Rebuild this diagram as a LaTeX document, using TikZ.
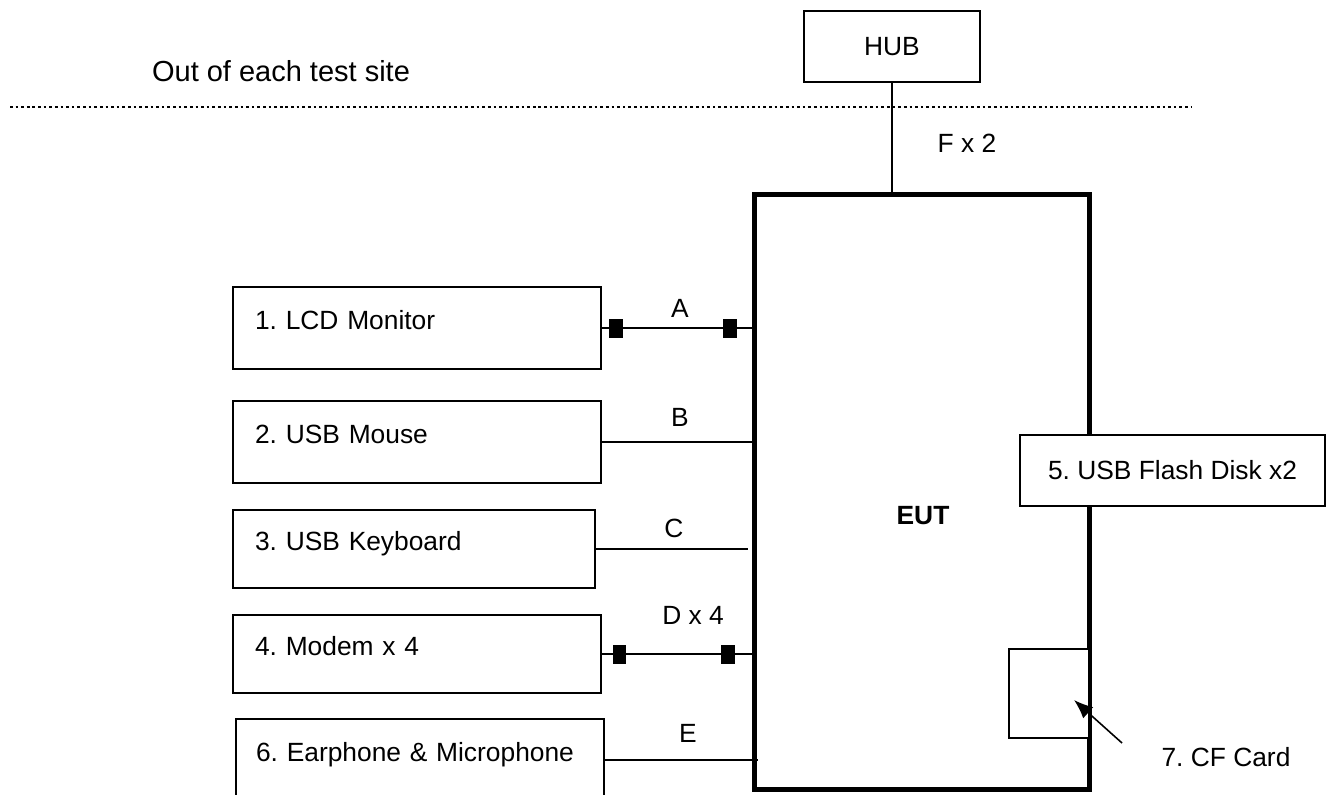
\documentclass[tikz,border=0pt]{standalone}
\usepackage{fontspec}
\setmainfont{Liberation Sans}
\usetikzlibrary{positioning}
\usetikzlibrary{arrows.meta}
\tikzset{
    devbox/.style = {rectangle, draw=black, line width=1pt, inner xsep=0.44cm, text width=6.48cm, align=left, minimum height=1.64cm, text height=11pt, text depth=9pt, font=\fontsize{15}{18}\selectfont},
    hubbox/.style = {rectangle, draw=black, line width=1pt, minimum width=3.52cm, minimum height=1.42cm, font=\fontsize{15}{18}\selectfont},
    eutbox/.style = {rectangle, draw=black, line width=2.8pt, inner sep=0pt, minimum width=6.70cm, minimum height=11.90cm},
    sidebox/.style = {rectangle, draw=black, line width=1pt, fill=white, inner sep=0pt, font=\fontsize{15}{18}\selectfont},
    plug/.style = {rectangle, fill=black, inner sep=0pt, minimum width=0.27cm, minimum height=0.38cm},
    lbl/.style = {inner sep=0pt, font=\fontsize{15}{18}\selectfont},
    cable/.style = {line width=0.75pt},
    pointer/.style = {line width=0.9pt, -{Latex[length=3.8mm,width=3mm]}},
    border/.style = {line width=1.5pt, dash pattern=on 1.5pt off 1.7pt}
}
\frenchspacing
\begin{document}
\begin{tikzpicture}[x=0.02cm, y=-0.02cm]
\useasboundingbox (0,0) rectangle (1331,794);
%
\node[lbl, font=\fontsize{16.5}{19}\selectfont] at (281,71) (site) {Out of each test site};
\coordinate (bl) at (10,107);
\coordinate (br) at (1192,107);
\draw[border] (bl) -- (br);
%
\node[eutbox] at (922,492) (eut) {};
\node[lbl, font=\fontsize{15}{18}\bfseries\selectfont] at (923,516) (eutname) {EUT};
\node[hubbox] at (892,46.5) (hub) {HUB};
\node[devbox] at (417,328) (lcd) {1. LCD Monitor};
\node[devbox] at (417,442) (mouse) {2. USB Mouse};
\node[devbox, text width=6.36cm, minimum height=1.56cm] at (414,549) (kbd) {3. USB Keyboard};
\node[devbox, minimum height=1.56cm] at (417,654) (modem) {4. Modem x 4};
\node[devbox, inner xsep=0.40cm, text width=6.56cm] at (420,760) (phone) {6. Earphone \& Microphone};
\node[sidebox, minimum width=6.10cm, minimum height=1.42cm] at (1172.5,470.5) (flash) {5. USB Flash Disk x2};
\node[sidebox, minimum width=1.60cm, minimum height=1.78cm] at (1049,693.5) (cf) {};
\node[lbl] at (1226,757) (cfnote) {7. CF Card};
%
\coordinate (cend) at (748,549);
\coordinate (eend) at (758,760);
\coordinate (cftail) at (1122,743);
\coordinate (cftip) at (1074,700);
%
\draw[cable] (hub.south) -- (hub.south |- eut.north);
\draw[cable] (lcd.east) -- (lcd.east -| eut.west);
\draw[cable] (mouse.east) -- (mouse.east -| eut.west);
\draw[cable] (kbd.east) -- (cend);
\draw[cable] (modem.east) -- (modem.east -| eut.west);
\draw[cable] (phone.east) -- (eend);
\draw[pointer] (cftail) -- (cftip);
%
\node[plug] at (616,328) (pa1) {};
\node[plug] at (730,328) (pa2) {};
\node[plug] at (619.5,654) (pd1) {};
\node[plug] at (728,654) (pd2) {};
%
\node[lbl] at (967,143) (labF) {F x 2};
\node[lbl] at (680,308) (labA) {A};
\node[lbl] at (680,417) (labB) {B};
\node[lbl] at (674,528) (labC) {C};
\node[lbl] at (693,615) (labD) {D x 4};
\node[lbl] at (688,733) (labE) {E};
\end{tikzpicture}
\end{document}
